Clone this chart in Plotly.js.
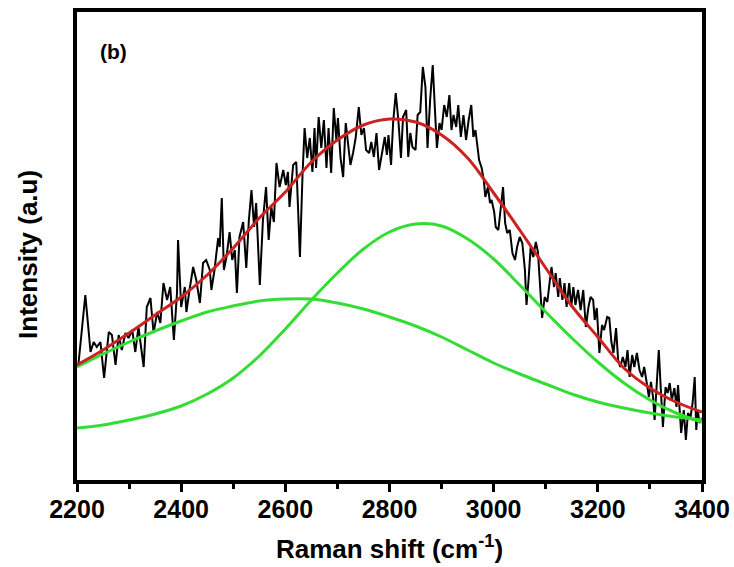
<!DOCTYPE html>
<html>
<head>
<meta charset="utf-8">
<script src="https://cdn.plot.ly/plotly-3.0.1.min.js"></script>
<style>html,body{margin:0;padding:0;background:#fff;}#chart{width:734px;height:567px;}</style>
</head>
<body>
<div id="chart"></div>
<script>
// Measured Raman spectrum (Raman shift in cm^-1, intensity in a.u.)
const ramanShift = [2203,2216,2226,2232,2238,2245,2252,2261,2267,2274,2280,2286,2293,2299,2306,2312,2318,2328,2334,2341,2347,2354,2360,2366,2373,2379,2386,2392,2394,2400,2407,2410,2416,2423,2429,2436,2442,2448,2455,2458,2464,2471,2474,2478,2482,2487,2493,2498,2503,2507,2512,2519,2525,2530,2535,2540,2544,2551,2557,2563,2568,2573,2578,2583,2589,2596,2601,2605,2608,2615,2621,2628,2633,2637,2642,2647,2652,2656,2659,2664,2669,2674,2679,2683,2688,2693,2698,2701,2706,2711,2716,2720,2725,2730,2735,2741,2746,2751,2755,2761,2765,2770,2775,2780,2786,2791,2795,2798,2803,2807,2812,2817,2822,2826,2832,2836,2840,2844,2850,2854,2859,2864,2869,2873,2878,2883,2887,2891,2896,2900,2905,2910,2915,2919,2923,2928,2932,2937,2942,2947,2952,2957,2961,2965,2969,2972,2977,2981,2984,2989,2993,2996,3001,3004,3009,3013,3018,3022,3026,3031,3036,3041,3045,3050,3055,3060,3063,3067,3071,3076,3081,3085,3089,3093,3098,3103,3108,3111,3116,3119,3124,3127,3132,3136,3140,3145,3149,3153,3157,3162,3167,3172,3177,3182,3186,3191,3194,3198,3203,3208,3212,3218,3222,3226,3230,3235,3239,3243,3248,3253,3257,3261,3266,3270,3275,3280,3285,3289,3293,3298,3302,3306,3309,3314,3317,3321,3325,3330,3334,3338,3342,3347,3351,3354,3357,3360,3365,3369,3373,3378,3382,3386,3389,3392,3395,3400];
const intensity = [117,185,128,138,133,138,102,148,145,115,145,130,147,142,150,128,153,113,173,182,147,168,157,197,180,193,140,187,240,173,193,168,190,213,200,177,217,220,210,190,210,242,233,282,210,223,248,220,230,187,243,258,212,260,290,253,277,195,260,293,240,273,258,317,293,310,295,308,273,315,318,223,305,352,322,342,308,352,312,363,332,360,312,352,307,372,340,362,322,303,357,340,315,327,342,373,345,352,330,327,338,323,347,310,330,343,325,345,315,358,387,360,322,363,370,323,347,333,330,365,368,413,393,332,380,415,373,332,357,350,375,363,385,350,365,353,375,343,365,340,360,375,343,350,333,320,312,300,283,293,277,280,268,253,250,270,293,257,247,250,227,220,233,243,237,210,175,200,233,223,238,228,197,162,183,178,200,213,193,207,183,202,180,197,173,197,173,193,175,190,170,190,153,173,183,180,160,172,127,155,150,163,162,138,127,152,120,113,123,113,130,103,125,113,127,110,103,113,100,83,98,83,60,103,130,90,53,93,87,97,80,92,73,95,70,47,70,40,67,63,77,103,50,70,57,62];

// Fitted curves, read at regular Raman shifts
const fitShift = [2200,2250,2300,2350,2400,2450,2500,2550,2600,2650,2700,2750,2800,2850,2900,2950,3000,3050,3100,3150,3200,3250,3300,3350,3400];
const fitSum   = [115,130,147,165,183,205,232,262,288,318,340,355,361,358,345,322,287,250,212,174,143,112,92,78,68];
const peak1    = [113,126,138,149,159,168,174,179,181,181,177,171,163,154,143,130,117,106,96,86,78,72,67,63,60];
const peak2    = [52,55,60,66,74,86,102,124,151,180,207,231,248,256,254,241,221,195,168,142,118,97,80,67,58];

const xTicks = [2200,2400,2600,2800,3000,3200,3400];

const boldFont = {family: 'Liberation Sans, Arial, sans-serif', color: '#000', weight: 'bold'};

const traces = [
  {x: ramanShift, y: intensity, type: 'scatter', mode: 'lines', line: {color: '#000', width: 2}, hoverinfo: 'skip'},
  {x: fitShift, y: peak1, type: 'scatter', mode: 'lines', line: {color: '#33dd33', width: 3, shape: 'spline'}},
  {x: fitShift, y: peak2, type: 'scatter', mode: 'lines', line: {color: '#33dd33', width: 3, shape: 'spline'}},
  {x: fitShift, y: fitSum, type: 'scatter', mode: 'lines', line: {color: '#cc2222', width: 3, shape: 'spline'}}
];

const layout = {
  width: 734, height: 567,
  margin: {l: 77, r: 32, t: 12, b: 87},
  paper_bgcolor: '#fff', plot_bgcolor: '#fff',
  showlegend: false,
  xaxis: {
    range: [2200, 3400], tickvals: xTicks, ticktext: xTicks.map(String),
    ticks: 'outside', ticklen: 8, tickwidth: 3, tickcolor: '#000',
    minor: {dtick: 100, tick0: 2200, ticks: 'outside', ticklen: 5, tickwidth: 3, tickcolor: '#000'},
    showline: true, linewidth: 4, linecolor: '#000', mirror: true,
    showgrid: false, zeroline: false,
    tickfont: Object.assign({size: 25}, boldFont),
    ticklabelstandoff: -4,
    title: {text: 'Raman shift (cm<sup>-1</sup>)', font: Object.assign({size: 26}, boldFont), standoff: 19}
  },
  yaxis: {
    range: [0, 468], showticklabels: false, ticks: '',
    showline: true, linewidth: 4, linecolor: '#000', mirror: true,
    showgrid: false, zeroline: false
  },
  annotations: [
    {text: 'Intensity (a.u)', xref: 'paper', yref: 'paper', x: -0.0784, y: 0.481,
     xanchor: 'center', yanchor: 'middle', textangle: -90, showarrow: false,
     font: Object.assign({size: 26}, boldFont)},
    {text: '(b)', xref: 'paper', yref: 'paper', x: 0.059, y: 0.915, xanchor: 'center', yanchor: 'middle',
     showarrow: false, font: Object.assign({size: 21}, boldFont)}
  ]
};

Plotly.newPlot('chart', traces, layout, {staticPlot: true, displayModeBar: false});
</script>
</body>
</html>
